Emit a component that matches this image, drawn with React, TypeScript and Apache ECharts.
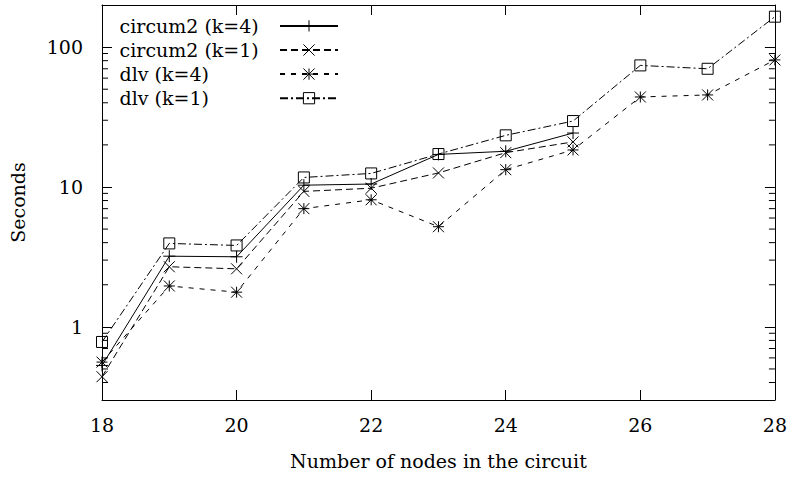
import React, { useEffect, useRef } from "react";
import * as echarts from "echarts";

// ---- data ----
const nodes = [18, 19, 20, 21, 22, 23, 24, 25, 26, 27, 28];
const circum2K4 = [0.53, 3.2, 3.17, 10.3, 10.5, 17.1, 18.0, 24.3];
const circum2K1 = [0.44, 2.69, 2.6, 9.3, 9.8, 12.6, 17.6, 21.0];
const dlvK4 = [0.56, 1.96, 1.77, 7.0, 8.1, 5.2, 13.3, 18.4, 44, 45.5, 81];
const dlvK1 = [0.78, 3.95, 3.82, 11.7, 12.5, 17.2, 23.4, 29.6, 74, 70, 165];
const seriesNames = ["circum2 (k=4)", "circum2 (k=1)", "dlv (k=4)", "dlv (k=1)"];

const X_MIN = 18;
const X_MAX = 28;
const X_INTERVAL = 2;
const Y_MIN = 0.3;
const Y_MAX = 200;
const yMinorTicks = [0.4, 0.5, 0.6, 0.7, 0.8, 0.9, 2, 3, 4, 5, 6, 7, 8, 9, 20, 30, 40, 50, 60, 70, 80, 90];

const xTitle = "Number of nodes in the circuit";
const yTitle = "Seconds";

const FONT = "DejaVu Serif";

const SYM_PLUS = "path://M0,5L10,5M5,0L5,10";
const SYM_CROSS = "path://M0,0L10,10M10,0L0,10";
const SYM_STAR = "path://M0,5L10,5M5,0L5,10M0,0L10,10M10,0L0,10";
const SYM_SQUARE = "path://M0,0L10,0L10,10L0,10Z";

function pairs(vals: number[]) {
  return vals.map((v, i) => [nodes[i], v]);
}

export default function App() {
  const ref = useRef<HTMLDivElement>(null);

  useEffect(() => {
    if (!ref.current) return;
    const chart = echarts.init(ref.current, null, { renderer: "svg" });

    const itemStyle = { color: "transparent", borderColor: "#000", borderWidth: 1 };
    const mkSeries = (name: string, vals: number[], symbol: string, size: number, dash: any) => ({
      name,
      type: "line",
      data: pairs(vals),
      symbol,
      symbolSize: size,
      itemStyle,
      lineStyle: { color: "#000", width: 1, type: dash },
      emphasis: { disabled: true },
    });

    const axisCommon = {
      axisLine: { show: true, lineStyle: { color: "#000", width: 1 } },
      axisTick: { show: true, inside: true, length: 10, lineStyle: { color: "#000", width: 1 } },
      splitLine: { show: false },
    };

    const legendCommon = {
      data: seriesNames,
      orient: "vertical",
      top: 16.4,
      padding: 0,
      itemHeight: 14,
      itemGap: 5.1,
      selectedMode: false,
    };

    const option: any = {
      animation: false,
      textStyle: { fontFamily: FONT, color: "#000" },
      grid: { left: 100, right: 13, top: 5, bottom: 77, containLabel: false },
      legend: [
        {
          ...legendCommon,
          left: 108,
          itemWidth: 0,
          itemStyle: { opacity: 0 },
          lineStyle: { opacity: 0 },
          textStyle: { fontFamily: FONT, fontSize: 19, color: "#000" },
        },
        {
          ...legendCommon,
          left: 279,
          itemWidth: 58,
          itemStyle: { color: "transparent", borderColor: "#000", borderWidth: 1 },
          textStyle: { fontFamily: FONT, fontSize: 19, color: "rgba(0,0,0,0)" },
        },
      ],
      xAxis: [
        {
          type: "value",
          min: X_MIN,
          max: X_MAX,
          interval: X_INTERVAL,
          position: "bottom",
          ...axisCommon,
          axisLabel: { show: true, margin: 15, fontSize: 19, fontFamily: FONT, color: "#000" },
          name: xTitle,
          nameLocation: "middle",
          nameGap: 51,
          nameTextStyle: { fontSize: 19, fontFamily: FONT, color: "#000" },
        },
        {
          type: "value",
          min: X_MIN,
          max: X_MAX,
          interval: X_INTERVAL,
          position: "top",
          ...axisCommon,
          axisLabel: { show: false },
        },
      ],
      yAxis: [
        {
          type: "log",
          logBase: 10,
          min: Y_MIN,
          max: Y_MAX,
          position: "left",
          ...axisCommon,
          axisLabel: {
            show: true,
            margin: 19,
            fontSize: 19,
            fontFamily: FONT,
            color: "#000",
            showMinLabel: false,
            showMaxLabel: false,
          },
          name: yTitle,
          nameLocation: "middle",
          nameRotate: 90,
          nameGap: 75,
          nameTextStyle: { fontSize: 19, fontFamily: FONT, color: "#000" },
        },
        {
          type: "log",
          logBase: 10,
          min: Y_MIN,
          max: Y_MAX,
          position: "right",
          ...axisCommon,
          axisLabel: { show: false },
        },
      ],
      series: [
        mkSeries(seriesNames[0], circum2K4, SYM_PLUS, 12, "solid"),
        mkSeries(seriesNames[1], circum2K1, SYM_CROSS, 11, [7, 4]),
        mkSeries(seriesNames[2], dlvK4, SYM_STAR, 11, [5, 6]),
        mkSeries(seriesNames[3], dlvK1, SYM_SQUARE, 11, [8, 3, 2, 3]),
        {
          name: "minorTicks",
          type: "custom",
          silent: true,
          data: yMinorTicks.map((v) => [X_MIN, v]),
          encode: { x: 0, y: 1 },
          renderItem: (_params: any, api: any) => {
            const v = api.value(1);
            const pL = api.coord([X_MIN, v]);
            const pR = api.coord([X_MAX, v]);
            const st = { stroke: "#000", lineWidth: 1 };
            return {
              type: "group",
              children: [
                { type: "line", shape: { x1: pL[0], y1: pL[1], x2: pL[0] + 6, y2: pL[1] }, style: st },
                { type: "line", shape: { x1: pR[0] - 6, y1: pR[1], x2: pR[0], y2: pR[1] }, style: st },
              ],
            };
          },
        },
      ],
    };

    chart.setOption(option);
    return () => chart.dispose();
  }, []);

  return (
    <div
      ref={ref}
      style={{ position: "fixed", left: 0, top: 0, width: 790, height: 477, background: "#fff" }}
    />
  );
}
